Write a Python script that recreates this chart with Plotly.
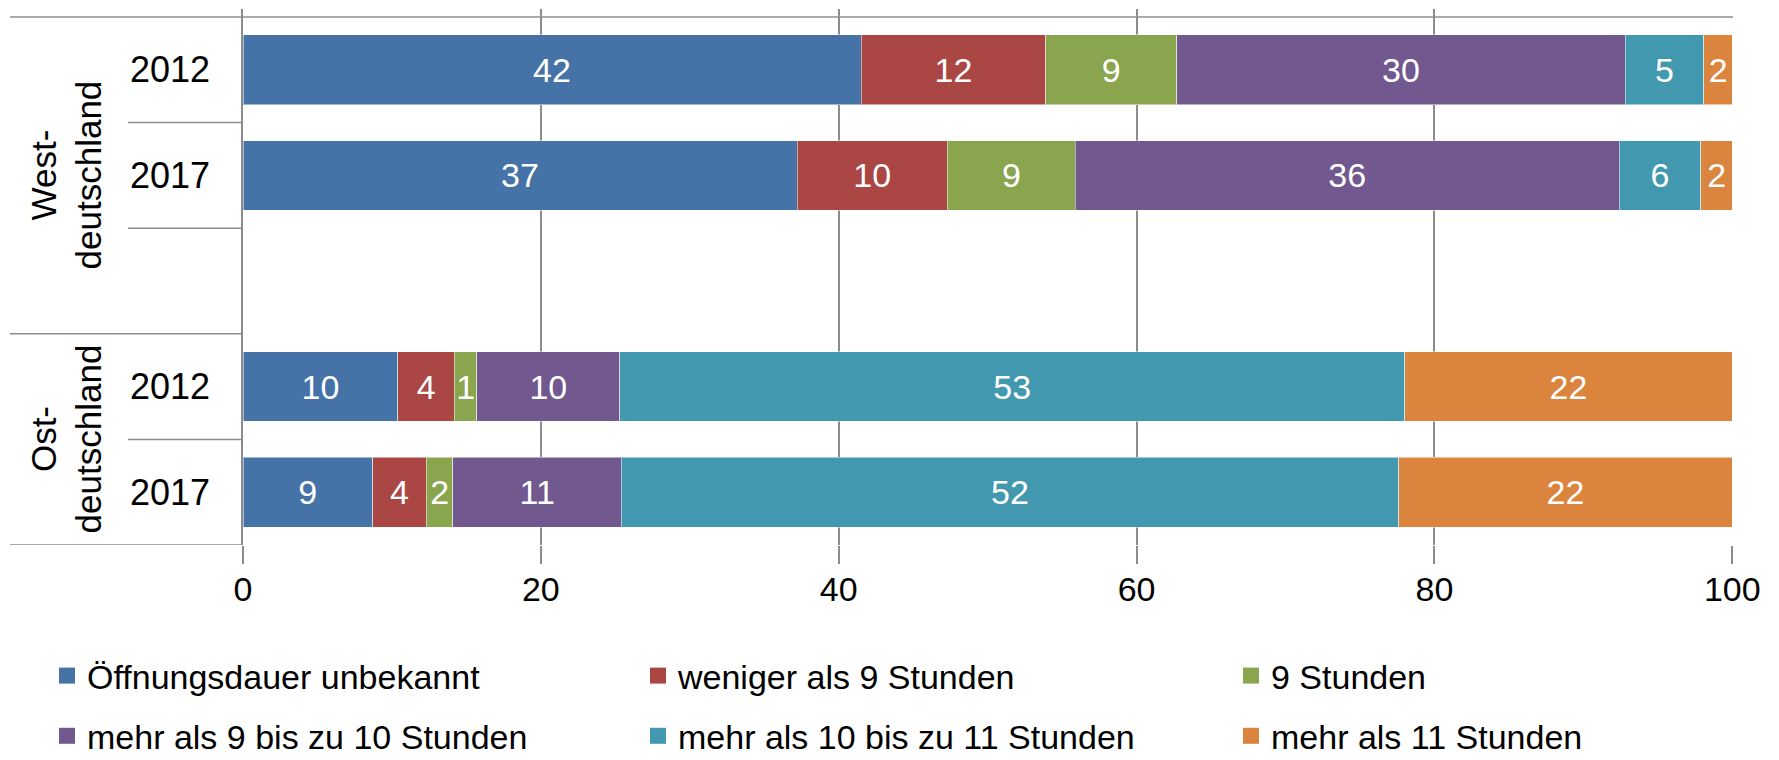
import plotly.graph_objects as go

# ---- data ----
row_keys = ["West-2012", "West-2017", "gap", "Ost-2012", "Ost-2017"]
row_years = ["2012", "2017", "", "2012", "2017"]
data_rows = ["West-2012", "West-2017", "Ost-2012", "Ost-2017"]
groups = ["West-<br>deutschland", "Ost-<br>deutschland"]

series_names = [
    "Öffnungsdauer unbekannt",
    "weniger als 9 Stunden",
    "9 Stunden",
    "mehr als 9 bis zu 10 Stunden",
    "mehr als 10 bis zu 11 Stunden",
    "mehr als 11 Stunden",
]
s_unbekannt = [41.5, 37.2, 10.4, 8.7]
s_unter9 = [12.4, 10.1, 3.8, 3.6]
s_9 = [8.8, 8.6, 1.5, 1.8]
s_9bis10 = [30.1, 36.5, 9.6, 11.3]
s_10bis11 = [5.3, 5.5, 52.7, 52.2]
s_ueber11 = [1.9, 2.1, 22.0, 22.4]

l_unbekannt = ["42", "37", "10", "9"]
l_unter9 = ["12", "10", "4", "4"]
l_9 = ["9", "9", "1", "2"]
l_9bis10 = ["30", "36", "10", "11"]
l_10bis11 = ["5", "6", "53", "52"]
l_ueber11 = ["2", "2", "22", "22"]

x_ticks = [0, 20, 40, 60, 80, 100]

values = [s_unbekannt, s_unter9, s_9, s_9bis10, s_10bis11, s_ueber11]
labels = [l_unbekannt, l_unter9, l_9, l_9bis10, l_10bis11, l_ueber11]
colors = ["#4572A7", "#AA4643", "#89A54E", "#71588F", "#4198AF", "#DB843D"]
legend_ids = ["legend", "legend2", "legend3", "legend", "legend2", "legend3"]

FONT = "Arial, Liberation Sans, sans-serif"

fig = go.Figure()
for i, name in enumerate(series_names):
    fig.add_trace(go.Bar(
        y=data_rows, x=values[i], orientation="h", name=name,
        legendgroup=name, showlegend=False,
        marker=dict(color=colors[i], line=dict(color="rgba(255,255,255,0.5)", width=1)),
        width=0.66,
        text=labels[i], textposition="inside", insidetextanchor="middle",
        textangle=0, textfont=dict(color="white", size=34, family=FONT),
        hoverinfo="x+name",
    ))
for i, name in enumerate(series_names):
    fig.add_trace(go.Scatter(
        x=[None], y=[None], mode="markers", name=name, legendgroup=name,
        legend=legend_ids[i], showlegend=True,
        marker=dict(symbol="square", size=16, color=colors[i]),
    ))

# divider lines on the left
shapes = []
line_col = "#8c8c8c"
def xpaper(px):
    return (px - 243) / 1490.0
for yb in [0.5, 1.5, 3.5]:
    shapes.append(dict(type="line", xref="paper", yref="y", x0=xpaper(128), x1=0,
                       y0=yb, y1=yb, line=dict(color=line_col, width=1.5)))
for yb in [2.5, 4.5]:
    shapes.append(dict(type="line", xref="paper", yref="y", x0=xpaper(10), x1=0,
                       y0=yb, y1=yb, line=dict(color=line_col, width=1.5)))
shapes.append(dict(type="line", xref="paper", yref="y", x0=xpaper(10), x1=1,
                   y0=-0.5, y1=-0.5, line=dict(color=line_col, width=1.5)))

annotations = []
for g, yc in zip(groups, [1, 3.5]):
    annotations.append(dict(text=g, xref="paper", yref="y", x=xpaper(66), y=yc,
                            showarrow=False, textangle=-90,
                            font=dict(size=35, family=FONT, color="black"),
                            xanchor="center", yanchor="middle"))

fig.update_layout(
    width=1779, height=760,
    margin=dict(l=243, r=46, t=9, b=215, autoexpand=False),
    plot_bgcolor="white", paper_bgcolor="white",
    barmode="stack", bargap=0.34,
    font=dict(family=FONT, size=34, color="black"),
    uniformtext=dict(minsize=34, mode="show"),
    shapes=shapes, annotations=annotations,
    xaxis=dict(range=[0, 100.05], tickvals=x_ticks, ticktext=[str(t) for t in x_ticks],
               showgrid=True, gridcolor=line_col, gridwidth=1.5,
               ticks="outside", ticklen=18, tickcolor=line_col, tickwidth=1.5,
               showline=False, zeroline=False, ticklabelstandoff=-4, automargin=False,
               tickangle=0,
               tickfont=dict(size=34, family=FONT, color="black")),
    yaxis=dict(type="category", categoryorder="array", categoryarray=row_keys,
               range=[4.5, -0.576], tickvals=row_keys, ticktext=row_years,
               showgrid=False, zeroline=False, showline=True, linecolor=line_col,
               linewidth=1.5, ticks="", ticklabelstandoff=24, automargin=False,
               tickfont=dict(size=36, family=FONT, color="black")),
    showlegend=True,
)
leg_common = dict(orientation="v", xref="container", yref="container",
                  yanchor="top", xanchor="left", traceorder="grouped",
                  tracegroupgap=13, font=dict(size=34, family=FONT, color="black"),
                  bgcolor="rgba(0,0,0,0)", borderwidth=0)
fig.update_layout(
    legend=dict(x=47 / 1779, y=1 - 647 / 760, **leg_common),
    legend2=dict(x=638 / 1779, y=1 - 647 / 760, **leg_common),
    legend3=dict(x=1231 / 1779, y=1 - 647 / 760, **leg_common),
)

fig.write_html("out.html", config={"displayModeBar": False},
               post_script="document.body.style.margin='0';")
